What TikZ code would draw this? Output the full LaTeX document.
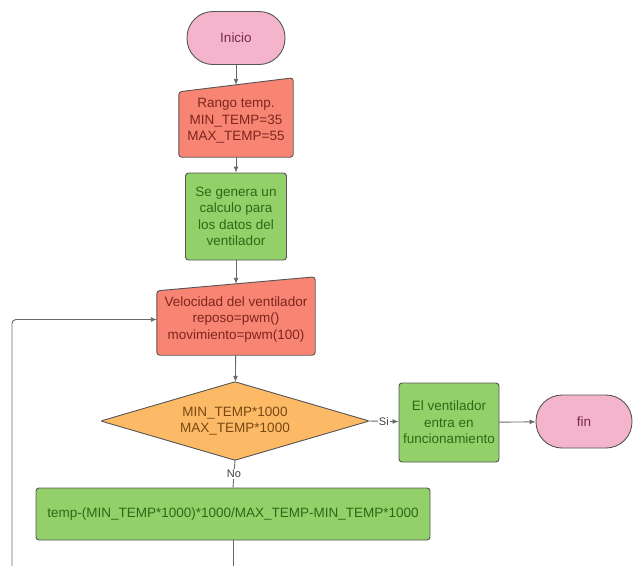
\documentclass[tikz,border=0pt]{standalone}
\usepackage{fontspec}
\setmainfont{Liberation Sans}
\usetikzlibrary{arrows.meta,backgrounds}
\definecolor{rosa}{RGB}{244,180,203}
\definecolor{rosatxt}{RGB}{120,45,75}
\definecolor{rojo}{RGB}{248,132,116}
\definecolor{rojotxt}{RGB}{125,38,28}
\definecolor{verde}{RGB}{148,208,106}
\definecolor{verdetxt}{RGB}{45,105,20}
\definecolor{naranja}{RGB}{253,186,102}
\definecolor{naranjatxt}{RGB}{120,72,18}
\definecolor{borde}{RGB}{85,85,85}
\definecolor{gris}{RGB}{105,105,105}
\tikzset{
  texto/.style={align=center, inner sep=2pt, font=\fontsize{13.5}{16.5}\selectfont},
  caja/.style={texto, draw=borde, line width=0.9pt, rounded corners=3pt},
  terminal/.style={caja, fill=rosa, text=rosatxt, rounded corners=26pt},
  proceso/.style={caja, fill=verde, text=verdetxt},
  entrada/.style={texto, text=rojotxt},
  decision/.style={texto, text=naranjatxt},
  forma/.style={draw=borde, line width=0.9pt, rounded corners=3pt},
  flecha/.style={draw=gris, line width=0.9pt, -{Latex[length=6pt,width=5pt]}},
  linea/.style={draw=gris, line width=0.9pt},
  etiqueta/.style={fill=white, inner sep=1pt, text=black!75, font=\fontsize{11}{13}\selectfont}
}
\begin{document}
\begin{tikzpicture}[x=1pt,y=-1pt]
\useasboundingbox (0,0) rectangle (633,566);

\node[terminal, minimum width=98pt, minimum height=53pt] (inicio) at (236,38) {Inicio};
\node[entrada, minimum width=114pt, minimum height=72pt] (rango) at (236,121)
  {Rango temp.\\MIN\_TEMP=35\\MAX\_TEMP=55};
\node[proceso, minimum width=101pt, minimum height=87pt] (calculo) at (236,216.5)
  {Se genera un\\calculo para\\los datos del\\ventilador};
\node[entrada, minimum width=158pt, minimum height=71pt] (velocidad) at (236,319.5)
  {Velocidad del ventilador\\reposo=pwm()\\movimiento=pwm(100)};
\node[decision, minimum width=268pt, minimum height=78pt] (cond) at (235,421)
  {MIN\_TEMP*1000\\MAX\_TEMP*1000};
\node[proceso, minimum width=100pt, minimum height=79pt] (funciona) at (449,422.5)
  {El ventilador\\entra en\\funcionamiento};
\node[terminal, minimum width=96pt, minimum height=53pt] (fin) at (584,421.5) {fin};
\node[proceso, minimum width=394pt, minimum height=52pt] (formula) at (233,514)
  {temp-(MIN\_TEMP*1000)*1000/MAX\_TEMP-MIN\_TEMP*1000};
\coordinate (bajo) at (233,566);
\coordinate (retorno) at (12,566);

\begin{scope}[on background layer]
\filldraw[forma, fill=rojo] ([yshift=7pt]rango.north east) -- ([yshift=-7pt]rango.north west)
  -- (rango.south west) -- (rango.south east) -- cycle;
\filldraw[forma, fill=rojo] ([yshift=7pt]velocidad.north east) -- ([yshift=-7pt]velocidad.north west)
  -- (velocidad.south west) -- (velocidad.south east) -- cycle;
\filldraw[forma, fill=naranja, rounded corners=1pt] (cond.north) -- (cond.east) -- (cond.south)
  -- (cond.west) -- cycle;
\end{scope}

\draw[flecha] (inicio) -- (rango);
\draw[flecha] (rango) -- (calculo);
\draw[flecha] (calculo) -- (velocidad);
\draw[flecha] (velocidad) -- (cond);
\draw[flecha] (cond.east) -- node[etiqueta]{Si} (funciona);
\draw[flecha] (funciona) -- (fin);
\draw[linea] (cond.south) -- node[etiqueta]{No} (formula.north);
\draw[linea] (formula.south) -- (bajo);
\draw[flecha, rounded corners=4pt] (retorno) |- (velocidad.west);
\end{tikzpicture}
\end{document}
